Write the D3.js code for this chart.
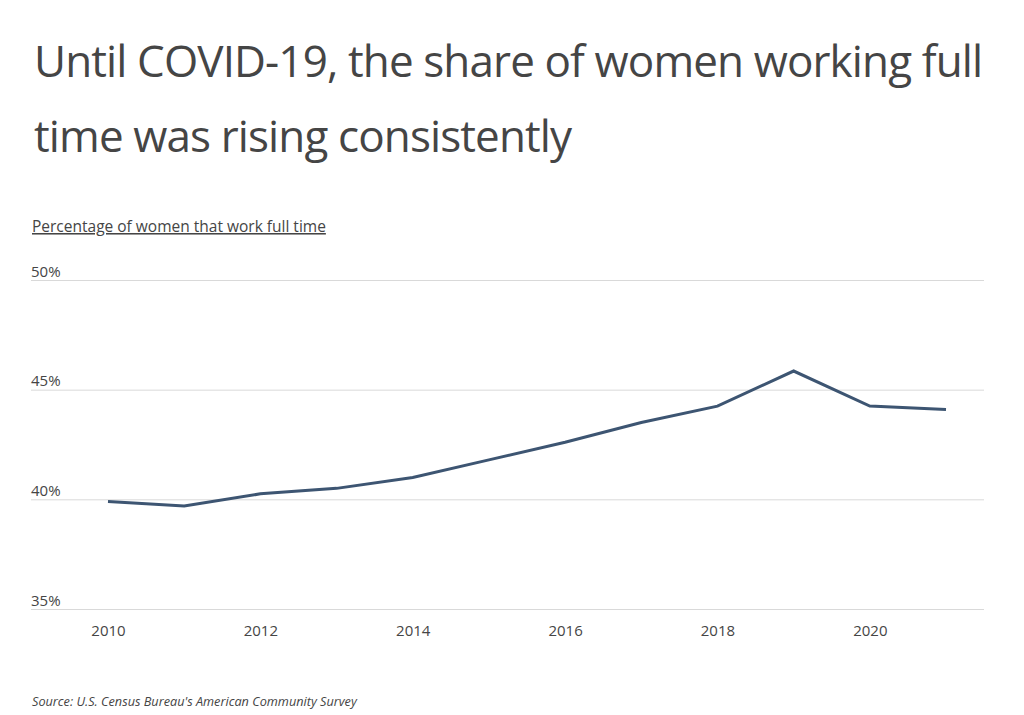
<!DOCTYPE html>
<html><head><meta charset="utf-8">
<script src="https://cdn.jsdelivr.net/npm/d3@7"></script>
<style>
html,body{margin:0;padding:0;background:#fff;}
svg{display:block;font-family:"Open Sans",sans-serif;}
</style></head>
<body><svg id="chart" width="1024" height="715"></svg>
<script>
const years = [2010,2011,2012,2013,2014,2015,2016,2017,2018,2019,2020,2021];
const fullTimeShare = [39.9,39.7,40.25,40.5,41.0,41.8,42.6,43.5,44.25,45.85,44.25,44.1];
const yTicks = [35,40,45,50];
const xTicks = [2010,2012,2014,2016,2018,2020];
const titleLines = ["Until COVID-19, the share of women working full","time was rising consistently"];
const subtitle = "Percentage of women that work full time";
const source = "Source: U.S. Census Bureau's American Community Survey";

const svg = d3.select("#chart");
const x = d3.scaleLinear().domain([2010,2021]).range([108,946]);
const y = d3.scaleLinear().domain([35,50]).range([609,280]);
const gridLeft = 31, gridRight = 984;

svg.selectAll("text.title").data(titleLines).join("text")
  .attr("class","title")
  .attr("x",34).attr("y",(d,i)=>77+i*75)
  .attr("font-size",44).attr("fill","#454545")
  .attr("letter-spacing",-0.88)
  .text(d=>d);

svg.append("text").attr("x",32).attr("y",232)
  .attr("font-size",15.5).attr("fill","#454545")
  .attr("text-decoration","underline")
  .text(subtitle);

const yAxis = svg.append("g").attr("transform",`translate(${gridLeft},0)`)
  .call(d3.axisRight(y).tickValues(yTicks).tickSize(gridRight-gridLeft).tickFormat(d=>d+"%"));
yAxis.select(".domain").remove();
yAxis.selectAll(".tick line").attr("stroke","#d9d9d9").attr("stroke-width",1);
yAxis.selectAll(".tick text").attr("x",0).attr("y",-4).attr("dy",0).attr("text-anchor","start")
  .attr("font-size",15).attr("font-family","Open Sans").attr("fill","#454545");

const xAxis = svg.append("g").attr("transform","translate(0,609)")
  .call(d3.axisBottom(x).tickValues(xTicks).tickSize(0).tickFormat(d3.format("d")));
xAxis.select(".domain").remove();
xAxis.selectAll(".tick text").attr("y",27).attr("dy",0)
  .attr("font-size",15).attr("font-family","Open Sans").attr("fill","#454545");

const line = d3.line().x((d,i)=>x(years[i])).y(d=>y(d));
svg.append("path").datum(fullTimeShare)
  .attr("d",line).attr("fill","none")
  .attr("stroke","#3d5572").attr("stroke-width",3)
  .attr("stroke-linejoin","miter");

svg.append("text").attr("x",32).attr("y",706)
  .attr("font-size",12.7).attr("font-style","italic").attr("fill","#454545")
  .text(source);
</script></body></html>
